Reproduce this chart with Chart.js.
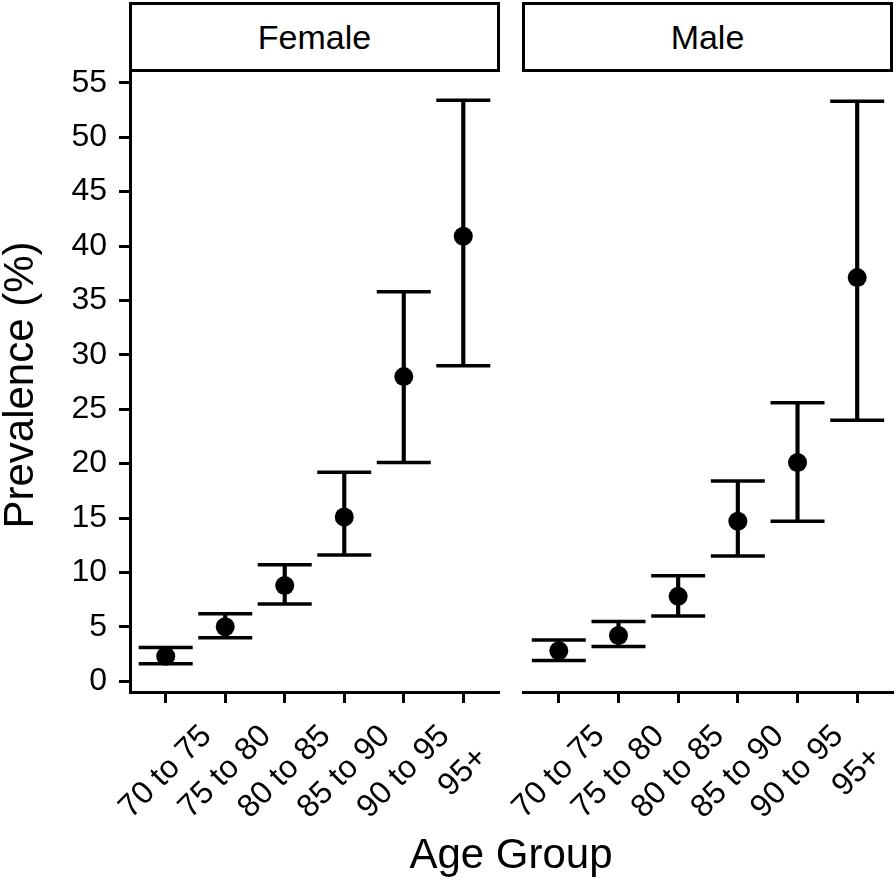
<!DOCTYPE html>
<html>
<head>
<meta charset="utf-8">
<script src="https://cdn.jsdelivr.net/npm/chart.js@4.4.1/dist/chart.umd.min.js"></script>
<style>
  html, body { margin: 0; padding: 0; background: #fff; }
  body { width: 896px; height: 884px; position: relative; overflow: hidden;
         font-family: "Liberation Sans", Arial, Helvetica, sans-serif; color: #000; }
  canvas { position: absolute; top: 0; }
  .strip { position: absolute; top: 2px; height: 70px; box-sizing: border-box;
           border: 3px solid #000; background: #fff; display: flex; align-items: center;
           justify-content: center; font-size: 34px; line-height: 1; }
  .ytitle { position: absolute; width: 400px; height: 50px; line-height: 50px; text-align: center;
            font-size: 42px; left: -181.5px; top: 360px; transform: rotate(-90deg); white-space: nowrap; }
  .xtitle { position: absolute; width: 400px; height: 50px; line-height: 50px; text-align: center;
            font-size: 42px; left: 311px; top: 829px; white-space: nowrap; }
</style>
</head>
<body>
<canvas id="female" width="510" height="884" style="left:0px;width:510px;height:884px"></canvas>
<canvas id="male" width="386" height="884" style="left:510px;width:386px;height:884px"></canvas>
<div class="strip" style="left:129px;width:371px;">Female</div>
<div class="strip" style="left:522px;width:371px;">Male</div>
<div class="ytitle">Prevalence (%)</div>
<div class="xtitle">Age Group</div>
<script>
const categories = ['70 to 75', '75 to 80', '80 to 85', '85 to 90', '90 to 95', '95+'];
const yTicks = [0, 5, 10, 15, 20, 25, 30, 35, 40, 45, 50, 55];

const femaleEst  = [2.3, 5.0, 8.8, 15.1, 28.0, 40.9];
const femaleLow  = [1.6, 4.0, 7.1, 11.6, 20.1, 29.0];
const femaleHigh = [3.1, 6.2, 10.7, 19.2, 35.8, 53.4];

const maleEst  = [2.8, 4.2, 7.8, 14.7, 20.1, 37.1];
const maleLow  = [1.9, 3.2, 6.0, 11.5, 14.7, 24.0];
const maleHigh = [3.8, 5.5, 9.7, 18.4, 25.6, 53.3];

const FONT = '"Liberation Sans", Arial, Helvetica, sans-serif';

const xLabelPlugin = {
  id: 'xLabels',
  afterDraw(chart) {
    const xs = chart.scales.x;
    const ctx = chart.ctx;
    ctx.save();
    ctx.font = '32px ' + FONT;
    ctx.fillStyle = '#000';
    ctx.textAlign = 'center';
    ctx.textBaseline = 'middle';
    categories.forEach((label, i) => {
      const px = xs.getPixelForValue(i);
      ctx.save();
      ctx.translate(px, 772);
      ctx.rotate(-Math.PI / 4);
      ctx.fillText(label, 0, 0);
      ctx.restore();
    });
    ctx.restore();
  }
};

function makeChart(id, est, low, high, showY, padding) {
  const pts = categories.map((c, i) => ({ x: i, y: est[i] }));
  const caps = [];
  categories.forEach((c, i) => { caps.push({ x: i, y: low[i] }); caps.push({ x: i, y: high[i] }); });
  const bars = categories.map((c, i) => ({ x: i, y: [low[i], high[i]] }));
  return new Chart(document.getElementById(id), {
    data: {
      datasets: [
        { type: 'scatter', data: pts, pointStyle: 'circle', pointRadius: 9.5,
          backgroundColor: '#000', borderColor: '#000', borderWidth: 0, clip: false },
        { type: 'scatter', data: caps, pointStyle: 'line', pointRadius: 27,
          borderColor: '#000', borderWidth: 3.5, backgroundColor: '#000', clip: false },
        { type: 'bar', data: bars, barThickness: 3.5, backgroundColor: '#000',
          borderWidth: 0, grouped: false }
      ]
    },
    options: {
      responsive: false,
      animation: false,
      devicePixelRatio: 1,
      layout: { padding: padding, autoPadding: false },
      plugins: { legend: { display: false }, tooltip: { enabled: false } },
      scales: {
        x: {
          type: 'linear', min: -0.6, max: 5.6, offset: false,
          afterBuildTicks: (s) => { s.ticks = categories.map((c, i) => ({ value: i })); },
          afterFit: (s) => { s.height = 192; },
          ticks: { display: false },
          grid: { display: true, offset: false, drawOnChartArea: false, drawTicks: true, tickLength: 11,
                  tickWidth: 3, tickColor: '#000' },
          border: { display: true, width: 3, color: '#000' }
        },
        y: {
          type: 'linear', min: -0.99, max: 56.0, display: showY,
          afterBuildTicks: (s) => { s.ticks = yTicks.map(v => ({ value: v })); },
          afterFit: (s) => { if (showY) s.width = 130; },
          ticks: { color: '#000', font: { size: 32, family: FONT }, padding: 12 },
          grid: { display: true, drawOnChartArea: false, drawTicks: true, tickLength: 11,
                  tickWidth: 3, tickColor: '#000' },
          border: { display: true, width: 3, color: '#000' }
        }
      }
    },
    plugins: [xLabelPlugin]
  });
}

makeChart('female', femaleEst, femaleLow, femaleHigh, true, { top: 72, right: 11, left: 0, bottom: 0 });
makeChart('male', maleEst, maleLow, maleHigh, false, { top: 72, right: 3, left: 13, bottom: 0 });
</script>
</body>
</html>
